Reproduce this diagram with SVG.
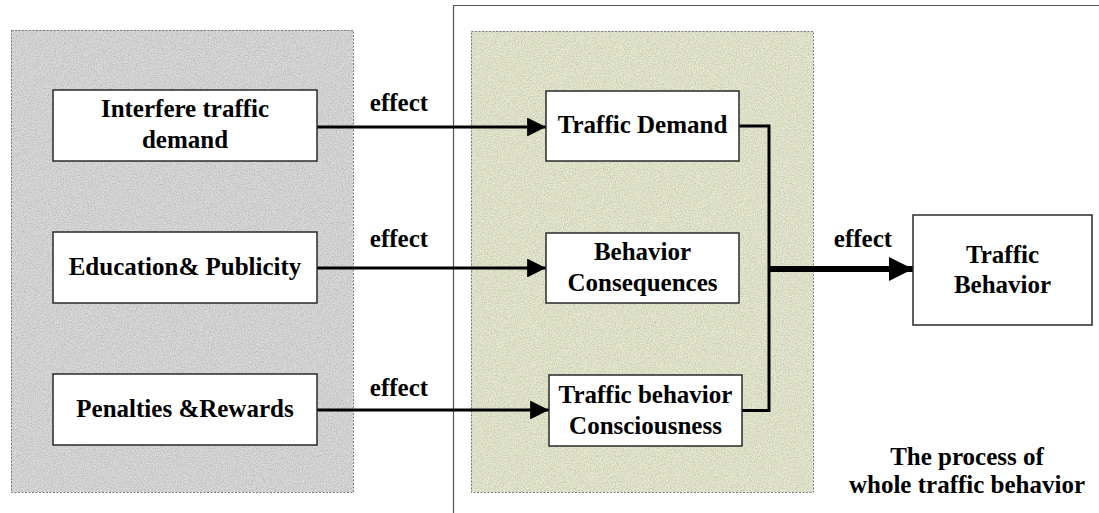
<svg xmlns="http://www.w3.org/2000/svg" width="1099" height="513" viewBox="0 0 1099 513">
  <defs>
    <style>
      .panel-edge { fill: none; stroke: #7a7a7a; stroke-width: 1; stroke-dasharray: 2 1.5; }
      .box { fill: #ffffff; stroke: #2a2a2a; stroke-width: 1.5; }
      .frame { fill: none; stroke: #555555; stroke-width: 1.2; }
      .lbl { font-family: "Liberation Serif", "Times New Roman", serif; font-weight: bold; font-size: 25px; fill: #000000; text-anchor: middle; }
      .wire { fill: none; stroke: #000000; stroke-width: 3; }
      .trunk { fill: none; stroke: #000000; stroke-width: 6; }
    </style>
    <!-- speckled grain used on both background panels -->
    <filter id="grain" x="0" y="0" width="100%" height="100%" color-interpolation-filters="sRGB">
      <feTurbulence type="fractalNoise" baseFrequency="0.85" numOctaves="2" seed="5" result="noise"/>
      <feColorMatrix in="noise" type="matrix" values="0 0 0 0 0  0 0 0 0 0  0 0 0 0 0  0.3 0 0 0 -0.1" result="specks"/>
      <feComposite in="specks" in2="SourceGraphic" operator="atop"/>
    </filter>
    <marker id="head" viewBox="0 0 10 10" refX="10" refY="5" markerWidth="6.3" markerHeight="6.3" markerUnits="strokeWidth" orient="auto">
      <path d="M0,0 L10,5 L0,10 z" fill="#000000"/>
    </marker>
    <marker id="headBig" viewBox="0 0 10 10" refX="10" refY="5" markerWidth="4" markerHeight="4" markerUnits="strokeWidth" orient="auto">
      <path d="M0,0 L10,5 L0,10 z" fill="#000000"/>
    </marker>
  </defs>

  <rect width="1099" height="513" fill="#ffffff"/>

  <!-- outer frame around the whole behavior process -->
  <path class="frame" d="M453.5,513 V5.5 H1099"/>

  <!-- measures panel (grey) -->
  <g id="panel-measures">
    <rect x="11" y="30" width="342" height="462" fill="#dbdbdb" filter="url(#grain)"/>
    <rect class="panel-edge" x="11.5" y="30.5" width="342" height="462"/>
  </g>

  <!-- factors panel (green) -->
  <g id="panel-factors">
    <rect x="471" y="31" width="342" height="461" fill="#e8ebd0" filter="url(#grain)"/>
    <rect class="panel-edge" x="471.5" y="31.5" width="342" height="461"/>
  </g>

  <!-- connectors -->
  <g id="connectors">
    <line class="wire" x1="317" y1="127" x2="546" y2="127" marker-end="url(#head)"/>
    <line class="wire" x1="317" y1="268" x2="546" y2="268" marker-end="url(#head)"/>
    <line class="wire" x1="317" y1="410" x2="549" y2="410" marker-end="url(#head)"/>
    <path class="wire" d="M739,126 H769 V410.5 H742"/>
    <line class="trunk" x1="768" y1="269" x2="913" y2="269" marker-end="url(#headBig)"/>
    <text class="lbl" x="399" y="111">effect</text>
    <text class="lbl" x="399" y="247">effect</text>
    <text class="lbl" x="399" y="396">effect</text>
    <text class="lbl" x="863" y="247">effect</text>
  </g>

  <g id="node-interfere">
    <rect class="box" x="53" y="90" width="264" height="71"/>
    <text class="lbl" x="185" y="117">Interfere traffic</text>
    <text class="lbl" x="185" y="148">demand</text>
  </g>

  <g id="node-education">
    <rect class="box" x="53" y="232" width="264" height="71"/>
    <text class="lbl" x="185" y="275">Education&amp; Publicity</text>
  </g>

  <g id="node-penalties">
    <rect class="box" x="53" y="374" width="264" height="71"/>
    <text class="lbl" x="185" y="417">Penalties &amp;Rewards</text>
  </g>

  <g id="node-demand">
    <rect class="box" x="546" y="91" width="193" height="70"/>
    <text class="lbl" x="642.5" y="133">Traffic Demand</text>
  </g>

  <g id="node-consequences">
    <rect class="box" x="546" y="233" width="193" height="70"/>
    <text class="lbl" x="642.5" y="260">Behavior</text>
    <text class="lbl" x="642.5" y="291">Consequences</text>
  </g>

  <g id="node-consciousness">
    <rect class="box" x="549" y="375" width="193" height="71"/>
    <text class="lbl" x="645.5" y="403">Traffic behavior</text>
    <text class="lbl" x="645.5" y="434">Consciousness</text>
  </g>

  <g id="node-behavior">
    <rect class="box" x="913" y="215" width="179" height="110"/>
    <text class="lbl" x="1002.5" y="263">Traffic</text>
    <text class="lbl" x="1002.5" y="293">Behavior</text>
  </g>

  <g id="caption">
    <text class="lbl" x="967" y="465">The process of</text>
    <text class="lbl" x="967" y="493">whole traffic behavior</text>
  </g>
</svg>
